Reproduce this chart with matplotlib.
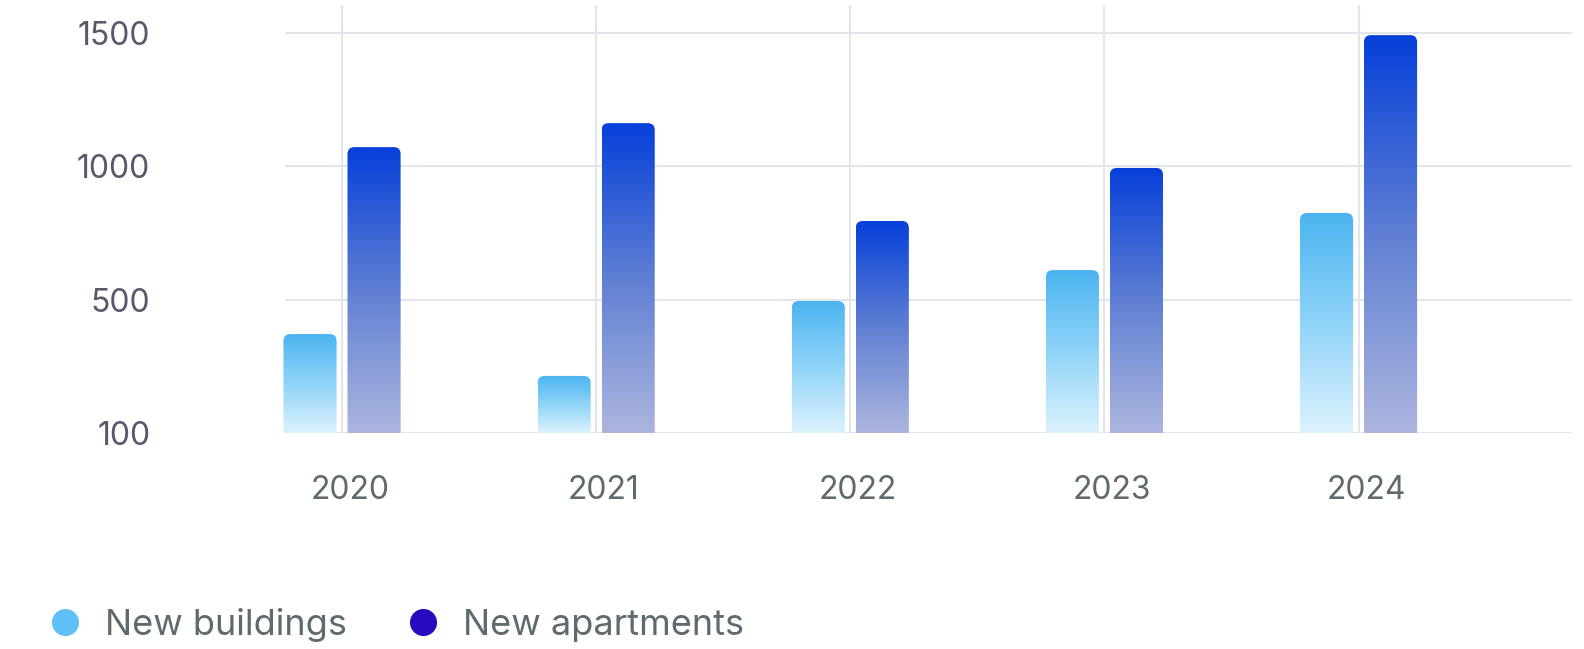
import matplotlib.pyplot as plt
import numpy as np
from matplotlib.colors import LinearSegmentedColormap
from matplotlib.patches import FancyBboxPatch
from matplotlib.lines import Line2D

plt.rcParams['font.family'] = ['Inter', 'DejaVu Sans']

years = ['2020', '2021', '2022', '2023', '2024']
new_buildings = [371, 214, 495, 611, 825]
new_apartments = [1072, 1162, 795, 994, 1492]
ytick_vals = [0, 500, 1000, 1500]
ytick_labels = ['100', '500', '1000', '1500']

grid_col = '#e2e5ea'
bld_cmap = LinearSegmentedColormap.from_list('bld', ['#dcf2fd', '#8fd3f8', '#4ab4f0'])
apt_cmap = LinearSegmentedColormap.from_list('apt', ['#acb5de', '#5f7fd3', '#0640da'])

# axes box in pixels (full size figure)
L, R, B, T = 278, 1572, 433, 5
fig = plt.figure(figsize=(15.84, 6.49), dpi=100)
ax = fig.add_axes([L/1584, 1-B/649, (R-L)/1584, (B-T)/649])

x = np.arange(len(years))
w = 0.209
off = 0.126
xlo = -(342 - L) / 254
xhi = 4.84
ymax = 1605

xu = (xhi - xlo) / (R - L)
yu = ymax / (B - T)
r = 7 * xu

def gradient_bar(xc, h, cmap):
    x0 = xc - w/2
    patch = FancyBboxPatch((x0, -50), w, h + 50,
                           boxstyle=f"round,pad=0,rounding_size={r}",
                           mutation_aspect=yu/xu, linewidth=0,
                           facecolor='none', edgecolor='none')
    ax.add_patch(patch)
    grad = np.linspace(0, 1, 256).reshape(-1, 1)
    im = ax.imshow(grad, cmap=cmap, origin='lower', aspect='auto',
                   extent=[x0, x0 + w, 0, h], zorder=3, interpolation='bicubic')
    im.set_clip_path(patch)

for i in range(len(years)):
    gradient_bar(x[i] - off, new_buildings[i], bld_cmap)
    gradient_bar(x[i] + off, new_apartments[i], apt_cmap)

ax.set_xlim(xlo, xhi)
ax.set_ylim(0, ymax)

gx0 = (286 - L) / (R - L)
for v in ytick_vals:
    ax.axhline(v, xmin=gx0, color=grid_col, lw=1.5, zorder=1)
for xi in x:
    ax.axvline(xi, color=grid_col, lw=1.5, zorder=1)

for s in ax.spines.values():
    s.set_visible(False)

ax.set_yticks(ytick_vals)
ax.set_yticklabels(ytick_labels)
ax.set_xticks(x + 0.03)
ax.set_xticklabels(years)
ax.tick_params(axis='y', length=0, pad=92, labelsize=23, labelcolor='#565a6b')
ax.tick_params(axis='x', length=0, pad=30, labelsize=23, labelcolor='#5f6a6e')

handles = [Line2D([], [], marker='o', ls='none', markersize=19.5, color='#5ec0f7', markeredgewidth=0),
           Line2D([], [], marker='o', ls='none', markersize=19.5, color='#2a0abf', markeredgewidth=0)]
fig.legend(handles, ['New buildings', 'New apartments'], loc='center left',
           bbox_to_anchor=(0.0297, 1-625/649), ncol=2, frameon=False,
           fontsize=26, labelcolor='#5f6a6e', handletextpad=0.61, columnspacing=1.6,
           borderaxespad=0, borderpad=0, handlelength=1)

plt.savefig('out.png', dpi=100)
